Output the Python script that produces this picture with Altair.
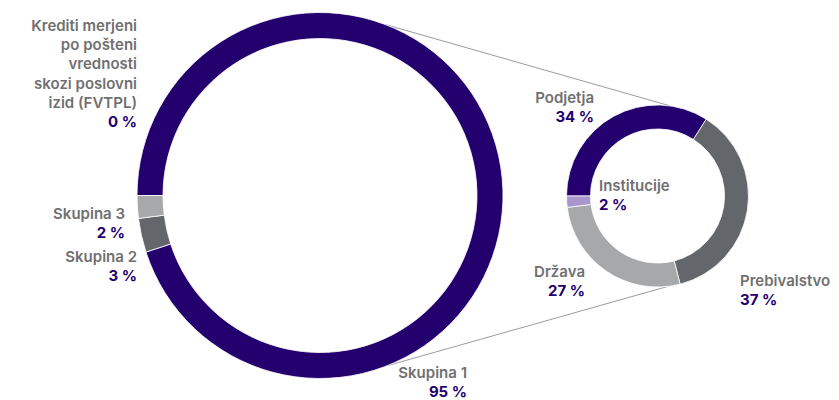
import math
import altair as alt
import pandas as pd

# ---------------- data ----------------
big_categories = ["Krediti merjeni po pošteni vrednosti skozi poslovni izid (FVTPL)",
                  "Skupina 1", "Skupina 2", "Skupina 3"]
big_values = [0, 95, 3, 2]
big_label_lines = [["Krediti merjeni", "po pošteni", "vrednosti", "skozi poslovni", "izid (FVTPL)"],
                   ["Skupina 1"], ["Skupina 2"], ["Skupina 3"]]

small_categories = ["Podjetja", "Prebivalstvo", "Država", "Institucije"]
small_values = [34, 37, 27, 2]

# ---------------- styles / layout ----------------
PURPLE = "#23006E"
DGRAY = "#63666A"
LGRAY = "#A7A8AA"
LPURPLE = "#A896CD"
TEXT_GRAY = "#707070"
FONT = "Inter"
FSIZE = 15

color_domain = big_categories + small_categories
color_range = [PURPLE, PURPLE, DGRAY, LGRAY, PURPLE, DGRAY, LGRAY, LPURPLE]

W, H = 823, 392
M = 8  # page margin -> coordinates below are page pixels
xs = alt.Scale(domain=[M, M + W], range=[0, W], nice=False, zero=False)
ys = alt.Scale(domain=[M + H, M], nice=False, zero=False)

BIG_C = (320, 195.5)
BIG_R = (183, 157)
SMALL_C = (657.5, 196)
SMALL_R = (91, 67)
START = 1.5 * math.pi

# label anchor layout (page px): x, y of first line, align
label_layout = {
    big_categories[0]: (137, 26, "right"),
    "Skupina 1": (467, 373, "right"),
    "Skupina 2": (137, 257, "right"),
    "Skupina 3": (125, 214, "right"),
    "Podjetja": (594, 98, "right"),
    "Prebivalstvo": (740, 281, "left"),
    "Država": (585, 272, "right"),
    "Institucije": (599, 186, "left"),
}
LINE_STEP = 19.2


def ring_df(cats, vals, center):
    return pd.DataFrame({
        "cat": cats, "value": vals, "idx": list(range(len(cats))),
        "cx": [center[0]] * len(cats), "cy": [center[1]] * len(cats),
    })


def ring(df, radii):
    return alt.Chart(df).mark_arc(
        outerRadius=radii[0], innerRadius=radii[1], stroke="white", strokeWidth=0.8
    ).encode(
        x=alt.X("cx:Q", scale=xs, axis=None),
        y=alt.Y("cy:Q", scale=ys, axis=None),
        theta=alt.Theta("value:Q", stack=True,
                        scale=alt.Scale(range=[START, START + 2 * math.pi])),
        color=alt.Color("cat:N", scale=alt.Scale(domain=color_domain, range=color_range), legend=None),
        order=alt.Order("idx:Q"),
    )


big = ring(ring_df(big_categories, big_values, BIG_C), BIG_R)
small = ring(ring_df(small_categories, small_values, SMALL_C), SMALL_R)


# connector lines (from outer edge of big ring to outer edge of small ring)
def pt(center, r, deg):
    a = math.radians(deg)
    return center[0] + r * math.sin(a), center[1] - r * math.cos(a)


conn = []
for b_deg, s_deg in [(20.8, 7.8), (158.4, 173.5)]:
    x1, y1 = pt(BIG_C, BIG_R[0], b_deg)
    x2, y2 = pt(SMALL_C, SMALL_R[0], s_deg)
    conn.append({"x": x1, "y": y1, "x2": x2, "y2": y2})
lines = alt.Chart(pd.DataFrame(conn)).mark_rule(color="#9B9B9B", strokeWidth=1).encode(
    x=alt.X("x:Q", scale=xs, axis=None), y=alt.Y("y:Q", scale=ys, axis=None),
    x2="x2:Q", y2="y2:Q",
)

# labels
name_rows, value_rows = [], []
all_lines = dict(zip(big_categories, big_label_lines))
for c in small_categories:
    all_lines[c] = [c]
all_vals = dict(zip(big_categories + small_categories, big_values + small_values))
for cat, (lx, ly, al) in label_layout.items():
    ls = all_lines[cat]
    for i, t in enumerate(ls):
        name_rows.append({"t": t, "x": lx, "y": ly + i * LINE_STEP, "al": al})
    value_rows.append({"t": f"{all_vals[cat]} %", "x": lx, "y": ly + len(ls) * LINE_STEP, "al": al})


def text_layer(rows, align, color, weight):
    df = pd.DataFrame([r for r in rows if r["al"] == align])
    return alt.Chart(df).mark_text(
        align=align, baseline="middle", font=FONT, fontSize=FSIZE, fontWeight=weight, color=color
    ).encode(
        x=alt.X("x:Q", scale=xs, axis=None), y=alt.Y("y:Q", scale=ys, axis=None), text="t:N"
    )


texts = [
    text_layer(name_rows, "right", TEXT_GRAY, 600),
    text_layer(name_rows, "left", TEXT_GRAY, 600),
    text_layer(value_rows, "right", PURPLE, 700),
    text_layer(value_rows, "left", PURPLE, 700),
]

chart = alt.layer(lines, big, small, *texts).properties(
    width=W, height=H, padding=0, autosize=alt.AutoSizeParams(type="none")
).resolve_scale(theta="independent").configure_view(stroke=None)

chart.save("out.html", embed_options={"renderer": "svg", "actions": False})
